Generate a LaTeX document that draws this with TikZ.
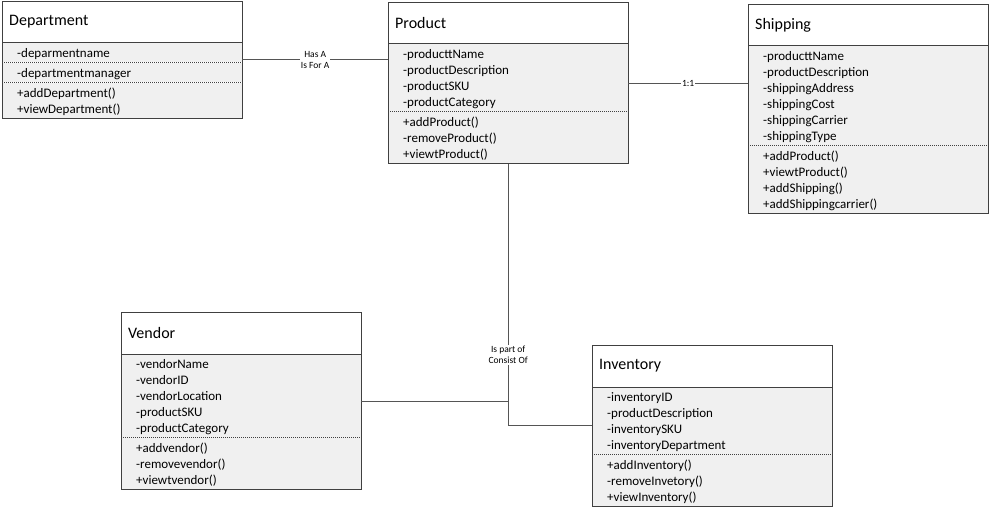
\documentclass[tikz,border=0pt]{standalone}
\usepackage{fontspec}
\setmainfont{Carlito}
\usetikzlibrary{positioning,fit}
\definecolor{ln}{HTML}{404040}
\definecolor{bd}{HTML}{F0F0F0}
\definecolor{cn}{HTML}{555555}
\newcommand\lnstrut{\rule[-3pt]{0pt}{16pt}}

\begin{document}
\begin{tikzpicture}[
  x=1pt, y=-1pt,
  node distance = 0pt,
  %% class boxes
  head/.style  = {rectangle, fill=white, anchor=north west,
                  text width=226pt, inner xsep=7pt, minimum height=41.5pt,
                  align=left, font=\fontsize{16}{18}\selectfont},
  part/.style  = {rectangle, fill=bd, text width=210pt, inner xsep=15pt,
                  inner ysep=1.7pt, align=left,
                  font=\fontsize{13}{16}\selectfont,
                  execute at begin node=\lnstrut, execute at end node=\lnstrut},
  frame/.style = {rectangle, draw=ln, inner sep=0pt},
  rule/.style  = {draw=ln, line width=0.8pt},
  sep/.style   = {draw=ln, dash pattern=on 1.2pt off 0.8pt, line width=0.5pt},
  %% connectors
  link/.style  = {draw=cn, line width=1.1pt},
  lbl/.style   = {fill=white, inner sep=1pt, align=center,
                  font=\fontsize{9.5}{11.5}\selectfont}
]
\useasboundingbox (0,0) rectangle (990,511);

%% ---- Department ----
\node[head] (dept) at (2,1) {Department};
\node[part, below=of dept]  (deptA) {-deparmentname};
\node[part, below=of deptA] (deptB) {-departmentmanager};
\node[part, below=of deptB] (deptM) {+addDepartment()\\+viewDepartment()};
\node[frame, fit=(dept)(deptM)] (deptF) {};
\draw[rule] (dept.south west) -- (dept.south east);
\draw[sep] (deptA.south west) -- (deptA.south east);
\draw[sep] (deptB.south west) -- (deptB.south east);

%% ---- Product ----
\node[head] (prod) at (388,2) {Product};
\node[part, below=of prod]  (prodA)
  {-producttName\\-productDescription\\-productSKU\\-productCategory};
\node[part, below=of prodA] (prodM)
  {+addProduct()\\-removeProduct()\\+viewtProduct()};
\node[frame, fit=(prod)(prodM)] (prodF) {};
\draw[rule] (prod.south west) -- (prod.south east);
\draw[sep] (prodA.south west) -- (prodA.south east);

%% ---- Shipping ----
\node[head] (ship) at (748,4) {Shipping};
\node[part, below=of ship]  (shipA)
  {-producttName\\-productDescription\\-shippingAddress\\-shippingCost\\
   -shippingCarrier\\-shippingType};
\node[part, below=of shipA] (shipM)
  {+addProduct()\\+viewtProduct()\\+addShipping()\\+addShippingcarrier()};
\node[frame, fit=(ship)(shipM)] (shipF) {};
\draw[rule] (ship.south west) -- (ship.south east);
\draw[sep] (shipA.south west) -- (shipA.south east);

%% ---- Vendor ----
\node[head] (vend) at (121,312) {Vendor};
\node[part, below=of vend]  (vendA)
  {-vendorName\\-vendorID\\-vendorLocation\\-productSKU\\-productCategory};
\node[part, below=of vendA] (vendM)
  {+addvendor()\\-removevendor()\\+viewtvendor()};
\node[frame, fit=(vend)(vendM)] (vendF) {};
\draw[rule] (vend.south west) -- (vend.south east);
\draw[sep] (vendA.south west) -- (vendA.south east);

%% ---- Inventory ----
\node[head] (inv) at (592,345) {Inventory};
\node[part, below=of inv]  (invA)
  {-inventoryID\\-productDescription\\-inventorySKU\\-inventoryDepartment};
\node[part, below=of invA] (invM)
  {+addInventory()\\-removeInvetory()\\+viewInventory()};
\node[frame, fit=(inv)(invM)] (invF) {};
\draw[rule] (inv.south west) -- (inv.south east);
\draw[sep] (invA.south west) -- (invA.south east);

%% ---- Connectors ----
\draw[link] ([yshift=-7pt]deptA.east) -- ([yshift=-7pt]deptA.east -| prodA.west)
  node[lbl, midway] {Has A\\Is For A};
\draw[link] ([yshift=-6pt]prodA.east) -- ([yshift=-6pt]prodA.east -| shipA.west)
  node[lbl, midway] {1:1};

\coordinate (bend) at ([yshift=-4.5pt]invA.west -| prodM.south);
\draw[link] (prodM.south) -- node[lbl, pos=0.73] {Is part of\\Consist Of} (bend)
  -- ([yshift=-4.5pt]invA.west);
\draw[link] ([yshift=-5.5pt]vendA.east) -- ([yshift=-5.5pt]vendA.east -| bend);

\end{tikzpicture}
\end{document}
